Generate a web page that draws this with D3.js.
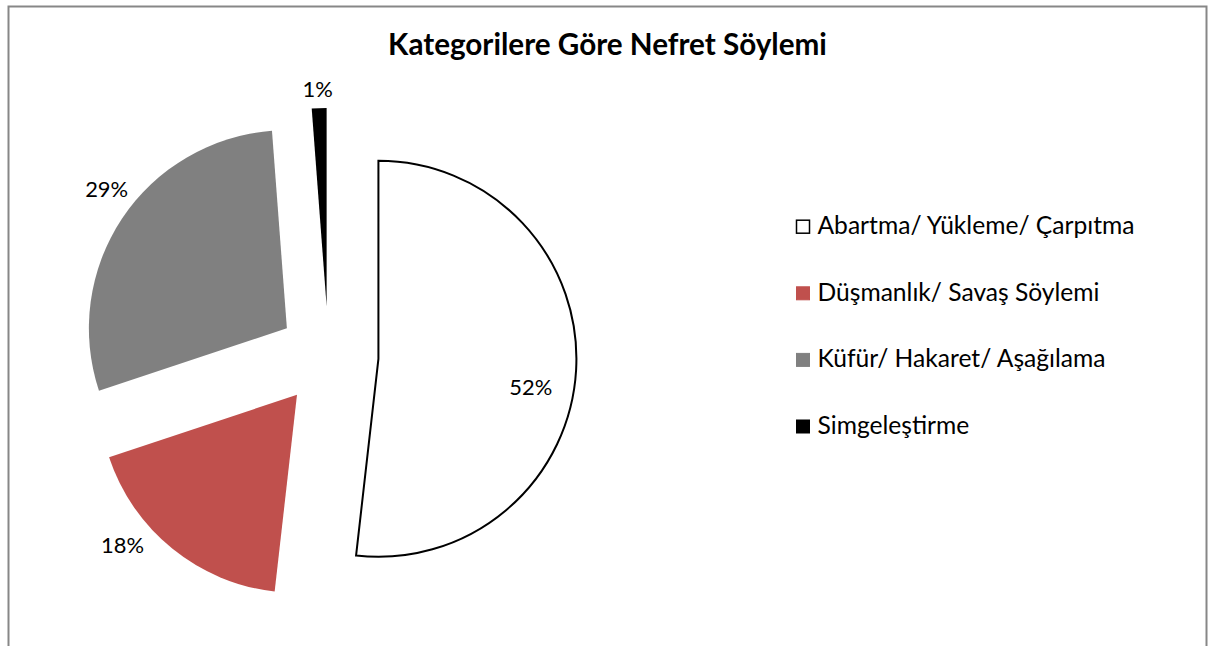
<!DOCTYPE html>
<html>
<head>
<meta charset="utf-8">
<script src="https://cdn.jsdelivr.net/npm/d3@7"></script>
<style>
  html, body { margin: 0; padding: 0; background: #fff; }
  svg { display: block; }
  text { font-family: Lato, "Open Sans", sans-serif; fill: #000; }
</style>
</head>
<body>
<svg id="chart" width="1210" height="646"></svg>
<script>
// ---- data ----
const title = "Kategorilere Göre Nefret Söylemi";
const categories = ["Abartma/ Yükleme/ Çarpıtma", "Düşmanlık/ Savaş Söylemi", "Küfür/ Hakaret/ Aşağılama", "Simgeleştirme"];
const values = [51.8, 18.1, 28.9, 1.2];
const valueLabels = ["52%", "18%", "29%", "1%"];

// ---- styles ----
const fills = ["#ffffff", "#c0504d", "#808080", "#000000"];
const strokes = ["#000000", "none", "none", "none"];
// label placement relative to each exploded slice apex: angle shift from bisector (deg) and radius
const labelAngleShift = [7.2, 10.3, 4.1, -0.2];
const labelRadius = [155, 230, 228, 218];

const W = 1210, H = 646;
const svg = d3.select("#chart");

// frame
svg.append("rect").attr("x", 8.5).attr("y", 6.5).attr("width", 1198).attr("height", 700)
  .attr("fill", "#fff").attr("stroke", "#878787").attr("stroke-width", 2);

// helper: fit font size to target width
function fit(sel, target) {
  const w = sel.node().getComputedTextLength();
  const fs = parseFloat(sel.attr("font-size"));
  sel.attr("font-size", fs * target / w);
}

// title
const t = svg.append("text").attr("x", 607.5).attr("y", 54.5).attr("text-anchor", "middle")
  .attr("font-weight", "bold").attr("font-size", 24).text(title);
fit(t, 439);

// pie
const cx = 328.5, cy = 356, R = 198, explode = 50;
const pie = d3.pie().sort(null).value(d => d)(values);
const arc = d3.arc().innerRadius(0).outerRadius(R);
const g = svg.append("g").attr("transform", `translate(${cx},${cy})`);

function polar(a, r) { return [r * Math.sin(a), -r * Math.cos(a)]; }

pie.forEach((p, i) => {
  const mid = (p.startAngle + p.endAngle) / 2;
  const [ox, oy] = polar(mid, explode);
  g.append("path").attr("d", arc(p))
    .attr("transform", `translate(${ox},${oy})`)
    .attr("fill", fills[i])
    .attr("stroke", strokes[i])
    .attr("stroke-width", strokes[i] === "none" ? 0 : 2)
    .attr("stroke-linejoin", "miter");
  const la = mid + labelAngleShift[i] * Math.PI / 180;
  const [lx, ly] = polar(la, labelRadius[i]);
  const lt = g.append("text").attr("x", ox + lx).attr("y", oy + ly)
    .attr("text-anchor", "middle").attr("dominant-baseline", "central")
    .attr("font-size", 24).text(valueLabels[i]);
  lt.attr("data-i", i);
});
// fit labels to measured width of "29%"
const lab = g.selectAll("text");
const ref = lab.filter((d, i) => i === 2);
const w29 = ref.node().getComputedTextLength();
const labFs = 24 * 43 / w29;
lab.attr("font-size", labFs);

// legend
const legX = 796, legY0 = 226.7, legStep = 66.6, sw = 14;
const leg = svg.append("g");
categories.forEach((c, i) => {
  const y = legY0 + i * legStep;
  leg.append("rect").attr("x", legX + 0.5).attr("y", y - sw / 2 + 0.5).attr("width", sw - 1).attr("height", sw - 1)
    .attr("fill", fills[i]).attr("stroke", i === 0 ? "#000" : fills[i]).attr("stroke-width", i === 0 ? 1.5 : 1);
  leg.append("text").attr("class", "lt").attr("x", 817.5).attr("y", y + 7.5).attr("font-size", 24).text(c);
});
const lts = leg.selectAll("text.lt");
const w0 = lts.nodes()[0].getComputedTextLength();
lts.attr("font-size", 24 * 317 / w0);
</script>
</body>
</html>
